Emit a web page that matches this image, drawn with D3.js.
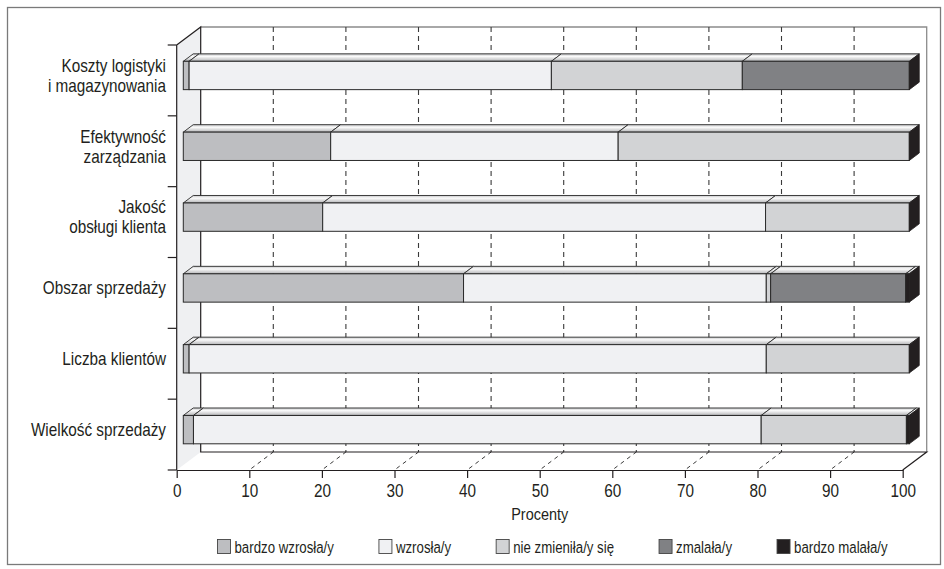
<!DOCTYPE html>
<html>
<head>
<meta charset="utf-8">
<script src="https://cdn.jsdelivr.net/npm/d3@7"></script>
<style>
  body { margin: 0; background: #fff; }
  text { font-family: "Liberation Sans", Arial, sans-serif; fill: #231f20; }
</style>
</head>
<body>
<div id="container"></div>
<script>
let w = 944;
let h = 569;

// categories, top to bottom
let categories = [
  ["Koszty logistyki", "i magazynowania"],
  ["Efektywność", "zarządzania"],
  ["Jakość", "obsługi klienta"],
  ["Obszar sprzedaży"],
  ["Liczba klientów"],
  ["Wielkość sprzedaży"]
];

let seriesNames = ["bardzo wzrosła/y", "wzrosła/y", "nie zmieniła/y się", "zmalała/y", "bardzo malała/y"];
let seriesColors = ["#bdbec1", "#f0f1f3", "#d2d3d5", "#808184", "#231f20"];

// values in percent, one per category
let bardzoWzrosla = [0.8, 20.3, 19.2, 38.6, 0.8, 1.4];
let wzrosla       = [49.9, 39.6, 61.0, 41.7, 79.5, 78.2];
let nieZmienila   = [26.3, 40.1, 19.8, 0.6, 19.7, 20.0];
let zmalala       = [23.0, 0, 0, 18.6, 0, 0];
let bardzoMalala  = [0, 0, 0, 0.5, 0, 0.4];

let xTicks = [0, 10, 20, 30, 40, 50, 60, 70, 80, 90, 100];
let xTitle = "Procenty";

// the original uses a narrow font, so regular text is squeezed a bit
let squeeze = 0.85;

// build a table the stack layout understands
let table = categories.map(function(c, i){
  return {
    key: c.join(" "),
    lines: c,
    "bardzo wzrosła/y": bardzoWzrosla[i],
    "wzrosła/y": wzrosla[i],
    "nie zmieniła/y się": nieZmienila[i],
    "zmalała/y": zmalala[i],
    "bardzo malała/y": bardzoMalala[i]
  };
});

let viz = d3.select("#container")
  .append("svg")
    .attr("width", w)
    .attr("height", h);

// outer frame
viz.append("rect")
  .attr("x", 7.5).attr("y", 7.5)
  .attr("width", 933).attr("height", 557)
  .attr("fill", "none").attr("stroke", "#7a7a7a").attr("stroke-width", 1.3);

// depth of the fake 3d box
let depthX = 24;
let depthY = -18;
function off(f){ return [depthX * f, depthY * f]; }

let x = d3.scaleLinear().domain([0, 100]).range([176.7, 902.7]);
let y = d3.scaleBand()
  .domain(table.map(function(d){ return d.key; }))
  .range([45, 470])
  .paddingInner(0.6)
  .paddingOuter(0.3);
let yEdge = d3.scaleLinear().domain([0, categories.length]).range([45, 470]);

let yTop = yEdge(0), yBottom = yEdge(categories.length);

let defs = viz.append("defs");
let grad = defs.append("linearGradient").attr("id", "topface")
  .attr("x1", 0).attr("y1", 0).attr("x2", 0).attr("y2", 1);
grad.append("stop").attr("offset", "0%").attr("stop-color", "#c4c5c7");
grad.append("stop").attr("offset", "35%").attr("stop-color", "#fbfbfb");
grad.append("stop").attr("offset", "100%").attr("stop-color", "#b4b5b7");

// left side wall
let box = viz.append("g").attr("class", "box");
box.append("polygon")
  .attr("points", [
    [x(0), yTop], [x(0) + depthX, yTop + depthY],
    [x(0) + depthX, yBottom + depthY], [x(0), yBottom]
  ].join(" "))
  .attr("fill", "#eff0f2");

// back wall outline
box.append("path")
  .attr("d", "M" + (x(0) + depthX) + "," + (yTop + depthY) +
             "H" + (x(100) + depthX) + "V" + (yBottom + depthY))
  .attr("fill", "none").attr("stroke", "#8c8c8c").attr("stroke-width", 1.3);

// back wall gridlines
let gridVals = xTicks.slice(1, -1);
box.selectAll(".vgrid").data(gridVals).enter().append("line")
  .attr("class", "vgrid")
  .attr("x1", function(d){ return x(d) + depthX; })
  .attr("x2", function(d){ return x(d) + depthX; })
  .attr("y1", yTop + depthY)
  .attr("y2", yBottom + depthY)
  .attr("stroke", "#3a3a3a").attr("stroke-width", 1.1)
  .attr("stroke-dasharray", "5,4");

// floor gridlines
box.selectAll(".fgrid").data(gridVals).enter().append("line")
  .attr("class", "fgrid")
  .attr("x1", function(d){ return x(d) + 2; })
  .attr("y1", yBottom - 1.5)
  .attr("x2", function(d){ return x(d) + depthX; })
  .attr("y2", yBottom + depthY)
  .attr("stroke", "#3a3a3a").attr("stroke-width", 1)
  .attr("stroke-dasharray", "4,4");

// dark edges of the box
box.append("path")
  .attr("d",
    "M" + x(0) + "," + yTop + "L" + (x(0) + depthX) + "," + (yTop + depthY) +
    "V" + (yBottom + depthY) + "H" + (x(100) + depthX) +
    "L" + x(100) + "," + yBottom +
    "M" + x(0) + "," + yTop + "V" + yBottom)
  .attr("fill", "none").attr("stroke", "#231f20").attr("stroke-width", 1.2);

// category ticks on the left
box.selectAll(".ytick").data(d3.range(categories.length + 1)).enter().append("line")
  .attr("class", "ytick")
  .attr("x1", x(0) - 9).attr("x2", x(0))
  .attr("y1", function(d){ return yEdge(d); })
  .attr("y2", function(d){ return yEdge(d); })
  .attr("stroke", "#231f20").attr("stroke-width", 1.2);

// x axis
let xAxis = d3.axisBottom(x).tickValues(xTicks).tickSize(8).tickSizeOuter(0).tickPadding(6);
let xAxisGroup = viz.append("g").attr("class", "xaxis")
  .attr("transform", "translate(0," + yBottom + ")")
  .call(xAxis);
xAxisGroup.select(".domain").attr("stroke", "#231f20").attr("stroke-width", 1.2);
xAxisGroup.selectAll(".tick line").attr("stroke", "#231f20").attr("stroke-width", 1.2);
xAxisGroup.selectAll(".tick text")
  .style("font-size", "18px")
  .style("font-family", "'Liberation Sans', Arial, sans-serif")
  .attr("fill", "#231f20")
  .attr("transform", "scale(" + squeeze + ",1)");

viz.append("text")
  .attr("transform", "translate(" + ((x(0) + x(100)) / 2) + ",520) scale(" + squeeze + ",1)")
  .attr("text-anchor", "middle")
  .style("font-size", "17px")
  .text(xTitle);

// category labels
let f0 = 0.275, f1 = 0.69;
let bar0 = off(f0), barD = [depthX * (f1 - f0), depthY * (f1 - f0)];

let labels = viz.selectAll(".cat").data(table).enter().append("text")
  .attr("class", "cat")
  .attr("text-anchor", "end")
  .style("font-size", "18px")
  .attr("transform", function(d){
    let cy = y(d.key) + y.bandwidth() / 2 + bar0[1];
    return "translate(166," + cy + ") scale(" + squeeze + ",1)";
  });
labels.selectAll("tspan").data(function(d){ return d.lines; }).enter().append("tspan")
  .attr("x", 0)
  .attr("y", function(d, i, nodes){
    let n = nodes.length;
    return (i - (n - 1) / 2) * 20;
  })
  .attr("dy", "0.35em")
  .text(function(d){ return d; });

// stacked bars
let stack = d3.stack().keys(seriesNames);
let stacked = stack(table);

let bars = viz.append("g").attr("class", "bars");
table.forEach(function(row, i){
  let g = bars.append("g");
  let segs = stacked.map(function(s, k){
    return { k: k, x0: s[i][0], x1: s[i][1] };
  }).filter(function(s){ return s.x1 - s.x0 > 0; });

  let yt = y(row.key) + bar0[1];
  let yb = yt + y.bandwidth();

  // top faces
  g.selectAll(".topf").data(segs).enter().append("polygon")
    .attr("points", function(s){
      let a = x(s.x0) + bar0[0], b = x(s.x1) + bar0[0];
      return [[a, yt], [a + barD[0], yt + barD[1]], [b + barD[0], yt + barD[1]], [b, yt]].join(" ");
    })
    .attr("fill", "url(#topface)")
    .attr("stroke", "#2a2a2a").attr("stroke-width", 0.9).attr("stroke-linejoin", "round");

  // front faces
  g.selectAll(".front").data(segs).enter().append("rect")
    .attr("x", function(s){ return x(s.x0) + bar0[0]; })
    .attr("y", yt)
    .attr("width", function(s){ return x(s.x1) - x(s.x0); })
    .attr("height", y.bandwidth())
    .attr("fill", function(s){ return seriesColors[s.k]; })
    .attr("stroke", "#2a2a2a").attr("stroke-width", 1);

  // right end face
  let e = x(100) + bar0[0];
  g.append("polygon")
    .attr("points", [[e, yt], [e + barD[0], yt + barD[1]], [e + barD[0], yb + barD[1]], [e, yb]].join(" "))
    .attr("fill", "#231f20").attr("stroke", "#231f20").attr("stroke-width", 0.8);
});

// legend
let legend = viz.append("g").attr("class", "legend");
let legendSqueeze = 0.78;
let lx = 217.5;
seriesNames.forEach(function(name, k){
  legend.append("rect")
    .attr("x", lx).attr("y", 539.5)
    .attr("width", 13).attr("height", 14)
    .attr("fill", seriesColors[k])
    .attr("stroke", "#444").attr("stroke-width", 0.9);
  let t = legend.append("text")
    .attr("transform", "translate(" + (lx + 17) + ",547) scale(" + legendSqueeze + ",1)")
    .attr("dy", "0.35em")
    .style("font-size", "17px")
    .text(name);
  lx = lx + 17 + t.node().getComputedTextLength() * legendSqueeze + 45;
});
</script>
</body>
</html>
